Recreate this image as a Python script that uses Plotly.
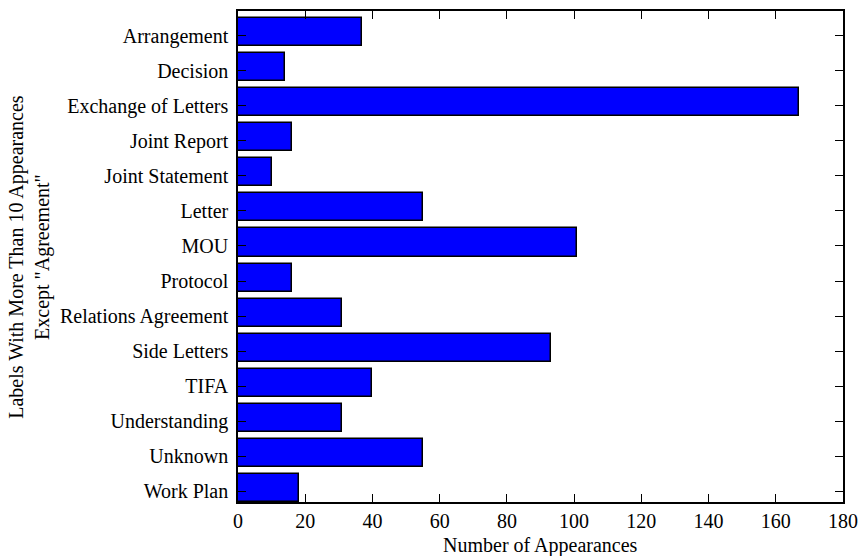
import plotly.graph_objects as go

# Label counts (excluding "Agreement")
labels = [
    "Arrangement", "Decision", "Exchange of Letters", "Joint Report",
    "Joint Statement", "Letter", "MOU", "Protocol", "Relations Agreement",
    "Side Letters", "TIFA", "Understanding", "Unknown", "Work Plan",
]
counts = [37, 14, 167, 16, 10, 55, 101, 16, 31, 93, 40, 31, 55, 18]
x_ticks = [0, 20, 40, 60, 80, 100, 120, 140, 160, 180]

n = len(labels)
# First label at the top: bar i sits on the slot [pos, pos + 0.8]
slots = [n - 1 - i for i in range(n)]
bar_centers = [s + 0.4 for s in slots]
tick_pos = [s + 0.3 for s in slots]

FONT = "Liberation Serif"

fig = go.Figure(
    go.Bar(
        x=counts,
        y=bar_centers,
        orientation="h",
        width=0.8,
        marker=dict(color="#0000FF", line=dict(color="black", width=1.5)),
        hoverinfo="x+text",
        hovertext=labels,
    )
)

axis_common = dict(
    showgrid=False,
    zeroline=False,
    showline=True,
    linecolor="black",
    linewidth=1.5,
    mirror="ticks",
    ticks="inside",
    ticklen=8,
    tickwidth=1,
    tickcolor="black",
    automargin=False,
    tickfont=dict(family=FONT, size=20, color="black"),
)

fig.update_xaxes(range=[0, 180], tickvals=x_ticks, **axis_common)
fig.update_yaxes(range=[0, n], tickvals=tick_pos, ticktext=labels,
                 ticklabelstandoff=4, **axis_common)

fig.add_annotation(
    text="Number of Appearances",
    xref="paper", yref="paper", x=0.5, y=-0.088,
    xanchor="center", yanchor="middle", showarrow=False,
    font=dict(family=FONT, size=20, color="black"),
)
fig.add_annotation(
    text='Labels With More Than 10 Appearances<br>Except "Agreement"',
    xref="paper", yref="paper", x=-0.345, y=0.5,
    xanchor="center", yanchor="middle", showarrow=False, textangle=-90,
    font=dict(family=FONT, size=20, color="black"),
)

fig.update_layout(
    width=859,
    height=556,
    margin=dict(l=238, r=16, t=11, b=54),
    plot_bgcolor="white",
    paper_bgcolor="white",
    showlegend=False,
    bargap=0,
)

fig.write_html("out.html")
